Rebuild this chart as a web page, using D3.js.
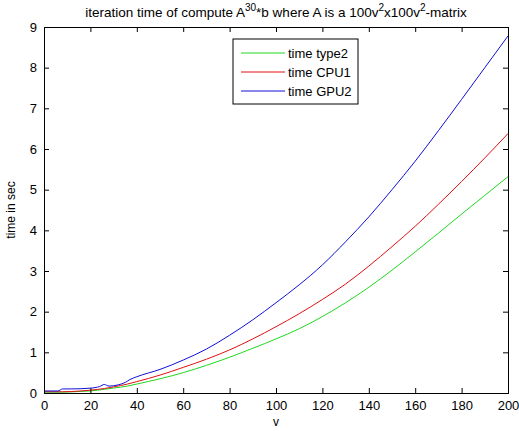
<!DOCTYPE html>
<html>
<head>
<meta charset="utf-8">
<script src="https://cdn.jsdelivr.net/npm/d3@7"></script>
<style>
  body { margin: 0; background: #fff; }
  text { font-family: "Liberation Sans", Arial, sans-serif; fill: #000; }
</style>
</head>
<body>
<div id="chart"></div>
<script>
const width = 519;
const height = 431;
const margin = { top: 27, right: 11, bottom: 38, left: 44 };

// values
const vType2 = [0, 8, 16, 20, 26, 30, 36, 40, 50, 60, 70, 80, 90, 100, 110, 120, 130, 140, 150, 160, 170, 180, 190, 200];
const timeType2 = [0.02, 0.02, 0.04, 0.05, 0.09, 0.12, 0.17, 0.22, 0.35, 0.5, 0.68, 0.88, 1.1, 1.33, 1.58, 1.88, 2.22, 2.6, 3.02, 3.47, 3.93, 4.4, 4.86, 5.32];

const vCPU1 = [0, 8, 16, 20, 26, 30, 36, 40, 50, 60, 70, 80, 90, 100, 110, 120, 130, 140, 150, 160, 170, 180, 190, 200];
const timeCPU1 = [0.03, 0.03, 0.05, 0.07, 0.11, 0.15, 0.22, 0.28, 0.44, 0.63, 0.83, 1.06, 1.33, 1.63, 1.95, 2.3, 2.68, 3.12, 3.6, 4.1, 4.64, 5.2, 5.78, 6.38];

const vGPU2 = [0, 6, 8, 12, 20, 24, 26, 28, 32, 35, 37, 40, 50, 60, 70, 80, 90, 100, 110, 120, 130, 140, 150, 160, 170, 180, 190, 200];
const timeGPU2 = [0.05, 0.05, 0.1, 0.1, 0.12, 0.16, 0.21, 0.17, 0.2, 0.26, 0.33, 0.4, 0.58, 0.81, 1.08, 1.42, 1.8, 2.22, 2.66, 3.15, 3.72, 4.33, 5.0, 5.7, 6.45, 7.22, 8.0, 8.78];

const xTicks = d3.range(0, 201, 20);
const yTicks = d3.range(0, 10, 1);

const series = [
  { name: "time type2", color: "#1fd81f", v: vType2, t: timeType2 },
  { name: "time CPU1", color: "#e01010", v: vCPU1, t: timeCPU1 },
  { name: "time GPU2", color: "#1010d8", v: vGPU2, t: timeGPU2 }
];

const svg = d3.select("#chart")
  .append("svg")
  .attr("width", width)
  .attr("height", height)
  .style("background-color", "#fff");

const x = d3.scaleLinear().domain([0, 200]).range([margin.left, width - margin.right]);
const y = d3.scaleLinear().domain([0, 9]).range([height - margin.bottom, margin.top]);

// lines
const line = d3.line()
  .curve(d3.curveMonotoneX)
  .x((d) => x(d[0]))
  .y((d) => y(d[1]));

svg.append("g")
  .selectAll("path")
  .data(series)
  .join("path")
  .attr("d", (s) => line(s.v.map((v, i) => [v, s.t[i]])))
  .attr("fill", "none")
  .attr("stroke", (s) => s.color)
  .attr("stroke-width", 1);

// axes, MATLAB box style with ticks inside
const tickLen = 5;
const axisBottom = svg.append("g")
  .attr("transform", `translate(0,${y(0)})`)
  .call(d3.axisBottom(x).tickValues(xTicks).tickSize(-tickLen).tickPadding(8));
const axisTop = svg.append("g")
  .attr("transform", `translate(0,${y(9)})`)
  .call(d3.axisTop(x).tickValues(xTicks).tickSize(-tickLen).tickFormat(""));
const axisLeft = svg.append("g")
  .attr("transform", `translate(${x(0)},0)`)
  .call(d3.axisLeft(y).tickValues(yTicks).tickSize(-tickLen).tickPadding(7));
const axisRight = svg.append("g")
  .attr("transform", `translate(${x(200)},0)`)
  .call(d3.axisRight(y).tickValues(yTicks).tickSize(-tickLen).tickFormat(""));

[axisBottom, axisTop, axisLeft, axisRight].forEach((g) => {
  g.select(".domain").attr("stroke", "#000");
  g.selectAll(".tick line").attr("stroke", "#000");
  g.selectAll(".tick text")
    .style("font-family", "Liberation Sans, Arial, sans-serif")
    .style("font-size", "13px")
    .attr("fill", "#000");
});

// title with superscripts
const title = svg.append("text")
  .attr("x", (margin.left + width - margin.right) / 2)
  .attr("y", 17)
  .attr("text-anchor", "middle")
  .style("font-size", "13.5px");
title.append("tspan").text("iteration time of compute A");
title.append("tspan").attr("dy", -6).style("font-size", "10px").text("30");
title.append("tspan").attr("dy", 6).text("*b where A is a 100v");
title.append("tspan").attr("dy", -6).style("font-size", "10px").text("2");
title.append("tspan").attr("dy", 6).text("x100v");
title.append("tspan").attr("dy", -6).style("font-size", "10px").text("2");
title.append("tspan").attr("dy", 6).text("-matrix");

// axis labels
svg.append("text")
  .attr("x", (margin.left + width - margin.right) / 2)
  .attr("y", 426)
  .attr("text-anchor", "middle")
  .style("font-size", "12px")
  .text("v");

svg.append("text")
  .attr("transform", `translate(15,${(margin.top + height - margin.bottom) / 2}) rotate(-90)`)
  .attr("text-anchor", "middle")
  .style("font-size", "12px")
  .text("time in sec");

// legend
const legend = svg.append("g").attr("transform", "translate(233,39)");
legend.append("rect")
  .attr("width", 125)
  .attr("height", 65)
  .attr("fill", "#fff")
  .attr("stroke", "#000");

const entry = legend.selectAll("g.entry")
  .data(series)
  .join("g")
  .attr("class", "entry")
  .attr("transform", (d, i) => `translate(0,${14 + i * 19})`);
entry.append("line")
  .attr("x1", 8)
  .attr("x2", 52)
  .attr("stroke", (d) => d.color);
entry.append("text")
  .attr("x", 55)
  .attr("dy", "0.35em")
  .style("font-size", "13px")
  .text((d) => d.name);
</script>
</body>
</html>
